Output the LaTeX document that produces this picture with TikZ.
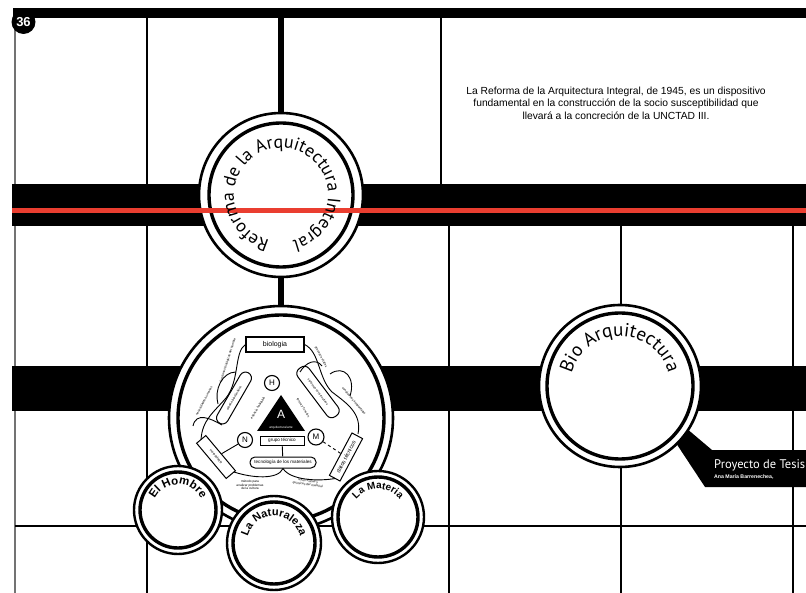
\documentclass[tikz,border=0pt]{standalone}
\usepackage{fontspec}
\setmainfont{Liberation Sans}
\newfontfamily\ptsans{PT Sans}
\newfontfamily\libsans{Liberation Sans}
\usetikzlibrary{decorations.text}
\definecolor{barred}{RGB}{234,62,48}
\begin{document}
\begin{tikzpicture}[x=1pt,y=-1pt,
  gridline/.style={line width=1.6pt},
  outring/.style={circle, draw, line width=2.6pt, fill=white, inner sep=0pt},
  inring/.style={circle, draw, line width=3.4pt, inner sep=0pt},
  fine/.style={line width=0.9pt},
  tinytext/.style={font=\libsans\fontsize{3.2}{3.7}\selectfont, align=center, inner sep=0pt},
  smalltext/.style={font=\libsans\fontsize{4.6}{5}\selectfont, inner sep=0pt},
  lettercirc/.style={circle, draw, line width=1.1pt, fill=white, minimum size=15pt, inner sep=0pt, font=\libsans\fontsize{8}{8}\selectfont},
  pill/.style={draw, line width=1pt, rounded corners=6pt, inner sep=0pt}
]
\useasboundingbox (0,0) rectangle (806,593);
\fill[white] (0,0) rectangle (806,593);

% grid
\draw[black!55, line width=2.2pt] (15,18) -- (15,593);
\draw[gridline] (147,18) -- (147,593);
\draw[gridline] (441,18) -- (441,186);
\draw[gridline] (449,224) -- (449,593);
\draw[gridline] (621,224) -- (621,593);
\draw[gridline] (793,224) -- (793,593);
\draw[gridline] (15,526) -- (806,526);

% bars
\fill (13,8) rectangle (806,18);
\fill (12,184) rectangle (806,226);
\fill (12,366) rectangle (806,411);

% Proyecto band
\fill (686,428) -- (712,450) -- (806,450) -- (806,487) -- (705,487) -- (672,437) -- cycle;
\node[anchor=base west, text=white, inner sep=0pt, font=\ptsans\fontsize{12.5}{12}\selectfont] (proy) at (714,468) {Proyecto de Tesis};
\node[anchor=base west, text=white, inner sep=0pt, font=\libsans\bfseries\fontsize{5.2}{6}\selectfont] (autora) at (714,478.5) {Ana María Barrenechea,};

% Reforma circle
\node[outring, minimum size=164pt] (reforma) at (281,195) {};
\node[inring, minimum size=144pt] (reformain) at (281,195) {};
\draw[barred, line width=4.5pt] (12,210.5) -- (806,210.5);

% main circle
\node[outring, minimum size=224pt] (main) at (281,418) {};
\node[inring, minimum size=206pt] (mainin) at (281,418) {};

\draw[line width=6pt] (281,13) -- (reforma.north);
\draw[line width=6pt] (reforma.south) -- (main.north);

% inner diagram
\node[draw, line width=1.1pt, minimum width=58pt, minimum height=15pt, inner sep=0pt, font=\libsans\fontsize{7}{7}\selectfont] (biol) at (275,344.5) {biologia};
\node[pill, rotate=60, minimum width=58pt, minimum height=12pt] (lcap) at (234,398) {};
\node[tinytext, rotate=60] (lcapt) at (234,398) {diseño bioclimático};
\node[pill, rotate=-53, minimum width=60pt, minimum height=14pt] (rcap) at (318,392) {};
\node[tinytext, rotate=-53] (rcapt) at (318,392) {sistemas constructivos};

\draw[fine] (biol.west) .. controls (234,352) and (240,380) .. (226,398) .. controls (214,412) and (202,420) .. (201,440);
\draw[fine] (222,425) .. controls (210,418) and (196,412) .. (193,426);
\draw[fine] (236,372) .. controls (222,372) and (214,390) .. (218,404);
\draw[fine] (biol.east) .. controls (320,352) and (318,378) .. (332,392) .. controls (348,404) and (362,414) .. (358,434);
\draw[fine] (330,374) .. controls (344,364) and (356,378) .. (350,396);
\draw[fine] (300,372) .. controls (306,362) and (316,358) .. (322,366);

\fill (281,395) -- (305,431) -- (257,431) -- cycle;
\node[text=white, inner sep=0pt, font=\libsans\fontsize{12}{12}\selectfont] (Atri) at (281,414) {A};
\node[tinytext, text=white] (arqarte) at (281,428) {arquitectura/arte};
\node[draw, line width=0.8pt, minimum width=44pt, minimum height=9pt, smalltext] (gt) at (282,440.5) {grupo técnico};
\node[draw, line width=1pt, rounded corners=5pt, minimum width=66pt, minimum height=11pt, smalltext] (tm) at (283,462.5) {tecnología de los materiales};
\draw[fine] (gt) -- (tm);
\draw[fine] (tm.south) .. controls (278,480) and (252,478) .. (234,472);
\draw[fine] (tm.south) .. controls (290,480) and (318,482) .. (338,478);

\node[lettercirc] (H) at (272,383) {H};
\node[lettercirc] (N) at (245,440) {N};
\node[lettercirc, minimum size=16pt] (M) at (316,437) {M};

\node[draw, line width=1pt, rotate=-50, minimum width=46pt, minimum height=12pt, fill=white, tinytext] (lbox) at (216,457) {metodología};
\node[draw, line width=1pt, rotate=62, minimum width=48pt, minimum height=12pt, fill=white, font=\libsans\fontsize{5.5}{6}\selectfont, inner sep=0pt] (rbox) at (346,457) {datos técnicos};
\draw[fine] (N) -- (lbox);
\draw[fine, dashed] (M) -- (rbox);

\node[tinytext, rotate=72] (t1) at (228,360) {funciones biológicas del hombre};
\node[tinytext, rotate=62] (t2) at (204,401) {necesidades humanas};
\node[tinytext, rotate=58] (t3) at (258,408) {espacio habitable};
\node[tinytext, rotate=-58] (t4) at (303,408) {forma y función};
\node[tinytext, rotate=-62] (t5) at (321,357) {procesos vitales};
\node[tinytext, rotate=-50] (t6) at (354,401) {condiciones ambientales};
\node[tinytext] (t7) at (250,485) {método para\\analizar problemas\\de la cultura};
\node[tinytext, rotate=-8] (t8) at (308,483) {leyes físicas y\\químicas del material};

% small circles
\node[outring, line width=2.4pt, minimum size=88pt] (hombre) at (178,510) {};
\node[inring, minimum size=76pt] (hombrein) at (178,510) {};
\node[outring, line width=2.4pt, minimum size=94pt] (natu) at (274,543) {};
\node[inring, minimum size=82pt] (natuin) at (274,543) {};
\node[outring, line width=2.4pt, minimum size=92pt] (mat) at (378,517) {};
\node[inring, minimum size=80pt] (matin) at (378,517) {};

% Bio circle
\node[outring, minimum size=162pt] (bioarq) at (620,386) {};
\node[inring, minimum size=146pt] (bioarqin) at (620,386) {};

% curved texts
\path[decorate, decoration={text along path, text align=center, text={|\ptsans\fontsize{18}{18}\selectfont|Reforma de la Arquitectura Integral}}] (281pt,-195pt) ++(265:47pt) arc[start angle=265, end angle=-85, radius=47pt];
\path[decorate, decoration={text along path, text align=center, text={|\ptsans\fontsize{19}{19}\selectfont|Bio Arquitectura}}] (620pt,-386pt) ++(215:50pt) arc[start angle=215, end angle=-35, radius=50pt];
\path[decorate, decoration={text along path, text align=center, text={|\libsans\bfseries\fontsize{11.5}{11.5}\selectfont|El Hombre}}] (178pt,-510pt) ++(200:25.5pt) arc[start angle=200, end angle=-20, radius=25.5pt];
\path[decorate, decoration={text along path, text align=center, text={|\libsans\bfseries\fontsize{11}{11}\selectfont|La Naturaleza}}] (274pt,-543pt) ++(200:27pt) arc[start angle=200, end angle=-20, radius=27pt];
\path[decorate, decoration={text along path, text align=center, text={|\libsans\bfseries\fontsize{10}{10}\selectfont|La Materia}}] (378pt,-517pt) ++(200:28pt) arc[start angle=200, end angle=-20, radius=28pt];

% paragraph
\node[align=center, inner sep=0pt, font=\libsans\fontsize{10.3}{12.5}\selectfont] (para) at (616,103) {La Reforma de la Arquitectura Integral, de 1945, es un dispositivo\\fundamental en la construcción de la socio susceptibilidad que\\llevará a la concreción de la UNCTAD III.};

% badge
\node[circle, fill=black, minimum size=24pt, inner sep=0pt, text=white, font=\libsans\bfseries\fontsize{13}{13}\selectfont] (badge) at (23.5,22) {36};
\end{tikzpicture}
\end{document}
